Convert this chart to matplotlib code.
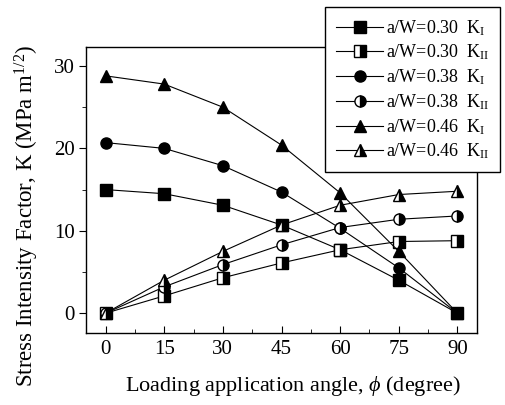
import matplotlib
matplotlib.use("Agg")
import matplotlib.pyplot as plt
from matplotlib.ticker import MultipleLocator

plt.rcParams['font.family'] = ['Liberation Serif', 'DejaVu Serif']
plt.rcParams['mathtext.fontset'] = 'custom'
plt.rcParams['mathtext.rm'] = 'Liberation Serif'
plt.rcParams['mathtext.it'] = 'Liberation Serif:italic'
plt.rcParams['mathtext.bf'] = 'Liberation Serif:bold'

angles = [0, 15, 30, 45, 60, 75, 90]
k1_030 = [15.0, 14.5, 13.1, 10.7, 7.7, 4.0, 0.0]
k2_030 = [0.0, 2.1, 4.3, 6.1, 7.7, 8.7, 8.8]
k1_038 = [20.7, 20.0, 17.9, 14.7, 10.3, 5.5, 0.0]
k2_038 = [0.0, 3.2, 5.9, 8.3, 10.4, 11.4, 11.8]
k1_046 = [28.8, 27.8, 25.0, 20.4, 14.6, 7.5, 0.0]
k2_046 = [0.0, 4.0, 7.5, 10.7, 13.1, 14.4, 14.8]

labels = [r'a/W=0.30  K$_\mathrm{I}$', r'a/W=0.30  K$_\mathrm{II}$',
          r'a/W=0.38  K$_\mathrm{I}$', r'a/W=0.38  K$_\mathrm{II}$',
          r'a/W=0.46  K$_\mathrm{I}$', r'a/W=0.46  K$_\mathrm{II}$']

fig = plt.figure(figsize=(5.05, 4.05), dpi=100)
ax = fig.add_axes([86/505, 1-333/405, (477-86)/505, (333-47)/405])

series = [(k1_030, 's', 'full'), (k2_030, 's', 'right'),
          (k1_038, 'o', 'full'), (k2_038, 'o', 'right'),
          (k1_046, '^', 'full'), (k2_046, '^', 'right')]
for (vals, m, fs), lab in zip(series, labels):
    ax.plot(angles, vals, color='black', lw=0.8, marker=m, ms=8 if m != '^' else 9,
            fillstyle=fs, markerfacecolor='black', markerfacecoloralt='white',
            markeredgecolor='black', markeredgewidth=1.0, label=lab)

ax.set_xlim(-5, 95)
ax.set_ylim(-2.4, 32.3)
ax.xaxis.set_major_locator(MultipleLocator(15))
ax.xaxis.set_minor_locator(MultipleLocator(7.5))
ax.yaxis.set_major_locator(MultipleLocator(10))
ax.yaxis.set_minor_locator(MultipleLocator(5))
ax.tick_params(axis='x', which='both', direction='in', labelsize=15, pad=5)
ax.tick_params(axis='x', which='major', length=5)
ax.tick_params(axis='x', which='minor', length=3)
ax.tick_params(axis='y', which='both', direction='out', labelsize=15, pad=3)
ax.tick_params(axis='y', which='major', length=5)
ax.tick_params(axis='y', which='minor', length=3)
for s in ax.spines.values():
    s.set_linewidth(1.0)

ax.set_xlabel(r'Loading application angle, $\phi$ (degree)', fontsize=16)
ax.set_ylabel(r'Stress Intensity Factor, K (MPa m$^{1/2}$)', fontsize=16.5)
ax.xaxis.set_label_coords(0.53, -0.145)
ax.yaxis.set_label_coords(-0.115, 0.41)

leg = fig.legend(loc='upper right', bbox_to_anchor=(500/505, 1-7/405),
                 bbox_transform=fig.transFigure, borderaxespad=0,
                 fontsize=13, frameon=True, fancybox=False, framealpha=1,
                 edgecolor='black', handlelength=2.6, handletextpad=0.15,
                 labelspacing=0.28, borderpad=0.6)
leg.get_frame().set_linewidth(1.0)

fig.savefig('out.png', dpi=100)
